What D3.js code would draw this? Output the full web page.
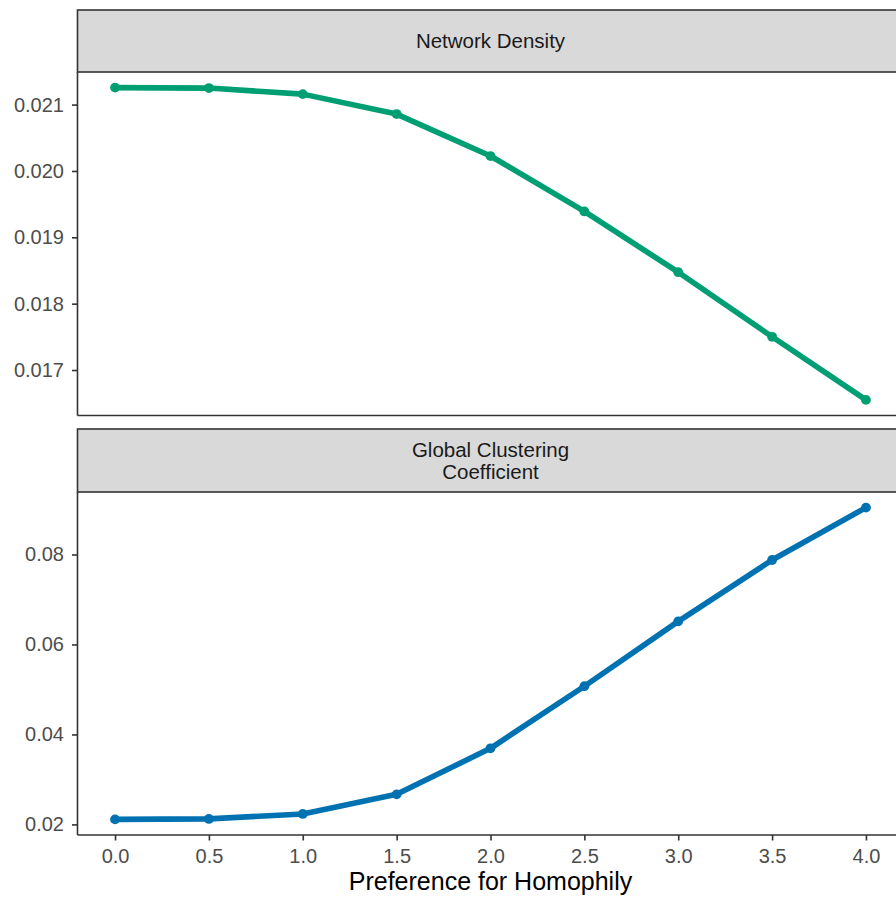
<!DOCTYPE html>
<html>
<head>
<meta charset="utf-8">
<script src="https://cdn.jsdelivr.net/npm/d3@7"></script>
<style>
  html, body { margin: 0; padding: 0; background: #fff; }
  svg { display: block; font-family: "Liberation Sans", Arial, Helvetica, sans-serif; }
</style>
</head>
<body>
<svg id="chart" width="896" height="898"></svg>
<script>
// Homophily preference levels (x) and the two network measures
const homophily = [0.0, 0.5, 1.0, 1.5, 2.0, 2.5, 3.0, 3.5, 4.0];
const density = [0.021256, 0.021249, 0.021158, 0.020857, 0.020225, 0.019390, 0.018474, 0.017501, 0.016550];
const clustering = [0.02111, 0.02122, 0.02233, 0.02668, 0.03692, 0.05072, 0.06514, 0.07878, 0.09043];

const xTicks = [0, 0.5, 1, 1.5, 2, 2.5, 3, 3.5, 4];
const densityTicks = [0.017, 0.018, 0.019, 0.020, 0.021];
const clusteringTicks = [0.02, 0.04, 0.06, 0.08];

const panels = [
  { title: ["Network Density"], values: density, ticks: densityTicks, fmt: d3.format(".3f"), color: "#009E73",
    stripTop: 10, stripBottom: 72, plotBottom: 415.5 },
  { title: ["Global Clustering", "Coefficient"], values: clustering, ticks: clusteringTicks, fmt: d3.format(".2f"), color: "#0072B2",
    stripTop: 429, stripBottom: 492, plotBottom: 835 }
];

const svg = d3.select("#chart");
const left = 77.5, right = 903.5;
const tickFont = 20;

// ggplot-style 5% expansion on both axes
function expand(ext, f = 0.05) {
  const r = ext[1] - ext[0];
  return [ext[0] - r * f, ext[1] + r * f];
}

const x = d3.scaleLinear().domain(expand(d3.extent(homophily))).range([left, right]);

panels.forEach((p, i) => {
  const g = svg.append("g");
  const y = d3.scaleLinear().domain(expand(d3.extent(p.values))).range([p.plotBottom, p.stripBottom]);

  // strip
  g.append("rect")
    .attr("x", left).attr("y", p.stripTop)
    .attr("width", right - left + 10).attr("height", p.stripBottom - p.stripTop)
    .attr("fill", "#D9D9D9").attr("stroke", "#333333").attr("stroke-width", 1.6);

  const lineH = 22;
  const cy = (p.stripTop + p.stripBottom) / 2;
  const startY = cy - (p.title.length - 1) * lineH / 2;
  p.title.forEach((t, k) => {
    g.append("text")
      .attr("x", (left + right) / 2)
      .attr("y", startY + k * lineH)
      .attr("dy", "0.35em")
      .attr("text-anchor", "middle")
      .attr("font-size", 20.5)
      .attr("fill", "#1A1A1A")
      .text(t);
  });

  // line and points
  const pts = homophily.map((h, k) => [h, p.values[k]]);
  g.append("path")
    .datum(pts)
    .attr("fill", "none")
    .attr("stroke", p.color)
    .attr("stroke-width", 5.6)
    .attr("stroke-linejoin", "round")
    .attr("d", d3.line().x(d => x(d[0])).y(d => y(d[1])));
  g.selectAll("circle").data(pts).join("circle")
    .attr("cx", d => x(d[0])).attr("cy", d => y(d[1]))
    .attr("r", 4.9).attr("fill", p.color);

  // y axis
  const ya = g.append("g")
    .attr("transform", `translate(${left},0)`)
    .call(d3.axisLeft(y).tickValues(p.ticks).tickFormat(p.fmt).tickSize(5.5).tickPadding(8));
  ya.select(".domain").attr("stroke", "#333333").attr("stroke-width", 1.6)
    .attr("d", `M0,${p.stripBottom}V${p.plotBottom}`);
  ya.selectAll(".tick line").attr("stroke", "#333333").attr("stroke-width", 1.6);
  ya.selectAll(".tick text").attr("fill", "#4D4D4D").attr("font-size", tickFont)
    .attr("font-family", "Liberation Sans, Arial, sans-serif");

  // x axis
  const xa = g.append("g")
    .attr("transform", `translate(0,${p.plotBottom})`)
    .call(d3.axisBottom(x).tickValues(i === 1 ? xTicks : []).tickFormat(d3.format(".1f")).tickSize(5.5).tickPadding(8.5));
  xa.select(".domain").attr("stroke", "#333333").attr("stroke-width", 1.6)
    .attr("d", `M${left},0H${right + 10}`);
  xa.selectAll(".tick line").attr("stroke", "#333333").attr("stroke-width", 1.6);
  xa.selectAll(".tick text").attr("fill", "#4D4D4D").attr("font-size", tickFont)
    .attr("font-family", "Liberation Sans, Arial, sans-serif");
});

// x-axis title
svg.append("text")
  .attr("x", (left + right) / 2)
  .attr("y", 889.5)
  .attr("text-anchor", "middle")
  .attr("font-size", 25)
  .attr("fill", "#000")
  .text("Preference for Homophily");
</script>
</body>
</html>
